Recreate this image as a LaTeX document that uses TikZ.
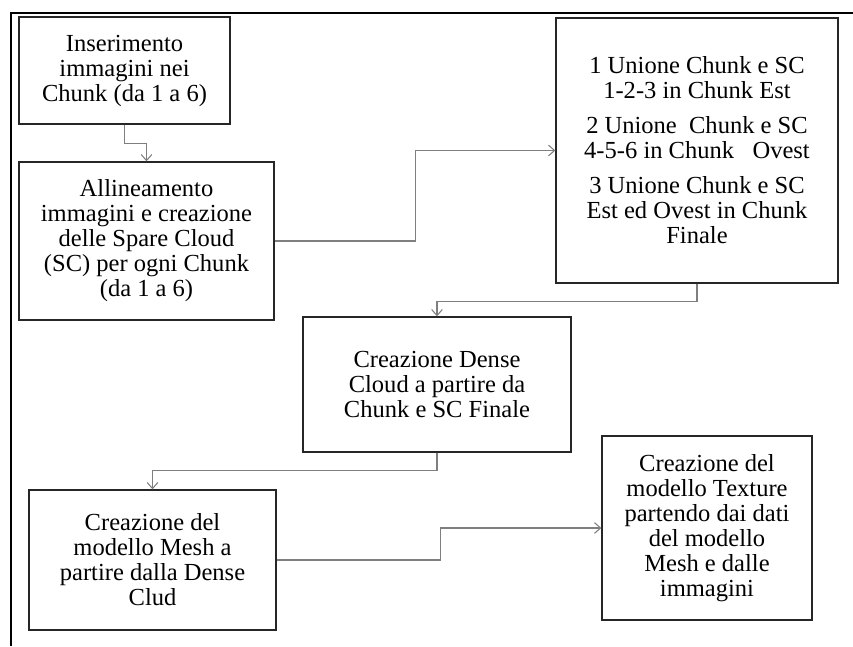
\documentclass[tikz,border=0pt]{standalone}
\usepackage{fontspec}
\setmainfont{Liberation Serif}
\usetikzlibrary{arrows.meta,positioning,calc}
\definecolor{boxline}{HTML}{262626}
\definecolor{flowgray}{HTML}{7F7F7F}

\begin{document}
\begin{tikzpicture}[
    x=0.75pt, y=-0.75pt,
    font=\fontsize{18.4}{18.75}\selectfont,
    stepbox/.style={draw=boxline, line width=1pt, fill=white,
        align=center, inner sep=2pt},
    flow/.style={draw=flowgray, line width=0.8pt,
        -{Straight Barb[length=4.5pt, width=8pt]}},
]
\useasboundingbox (0,0) rectangle (853,646);

% =====================================================
% Page frame (top and left rule)
% =====================================================
\draw[black, line width=1pt] (10,13) -- (853,13);
\draw[black, line width=1pt] (11,13) -- (11,646);

% =====================================================
% Left column: images into chunks, alignment
% =====================================================
\node[stepbox, minimum width=158.25pt, minimum height=80.25pt]
    (ins) at (124.5, 70.5)
    {Inserimento\\immagini nei\\Chunk (da 1 a 6)};

\node[stepbox, minimum width=191.25pt, minimum height=118.5pt]
    (all) at (146.5, 241)
    {Allineamento\\immagini e creazione\\delle Spare Cloud\\(SC) per ogni Chunk\\(da 1 a 6)};

% =====================================================
% Right column: merging the chunks
% =====================================================
\node[stepbox, minimum width=211.5pt, minimum height=198.75pt]
    (uni) at (697, 150.5)
    {1 Unione Chunk e SC\\1-2-3 in Chunk Est\\[7.5pt]
     2 Unione\ \ Chunk e SC\\4-5-6 in Chunk\ \ \ Ovest\\[7.5pt]
     3 Unione Chunk e SC\\Est ed Ovest in Chunk\\Finale};

% =====================================================
% Middle: dense cloud
% =====================================================
\node[stepbox, minimum width=201pt, minimum height=101.25pt]
    (den) at (437, 384.5)
    {Creazione Dense\\Cloud a partire da\\Chunk e SC Finale};

% =====================================================
% Bottom: mesh and texture models
% =====================================================
\node[stepbox, minimum width=185.25pt, minimum height=105pt]
    (mes) at (152.5, 560)
    {Creazione del\\modello Mesh a\\partire dalla Dense\\Clud};

\node[stepbox, minimum width=157.5pt, minimum height=138pt]
    (tex) at (707, 528)
    {Creazione del\\modello Texture\\partendo dai dati\\del modello\\Mesh e dalle\\immagini};

% =====================================================
% Elbow connectors
% =====================================================
\draw[flow] (ins.south) -- ++(0,19) -| (all.north);
\draw[flow] (all.east) -- ++(141,0) |- (uni.west);
\draw[flow] (uni.south) -- ++(0,18) -| (den.north);
\draw[flow] (den.south) -- ++(0,18) -| (mes.north);
\draw[flow] (mes.east) -- ++(164,0) |- (tex.west);

\end{tikzpicture}
\end{document}
